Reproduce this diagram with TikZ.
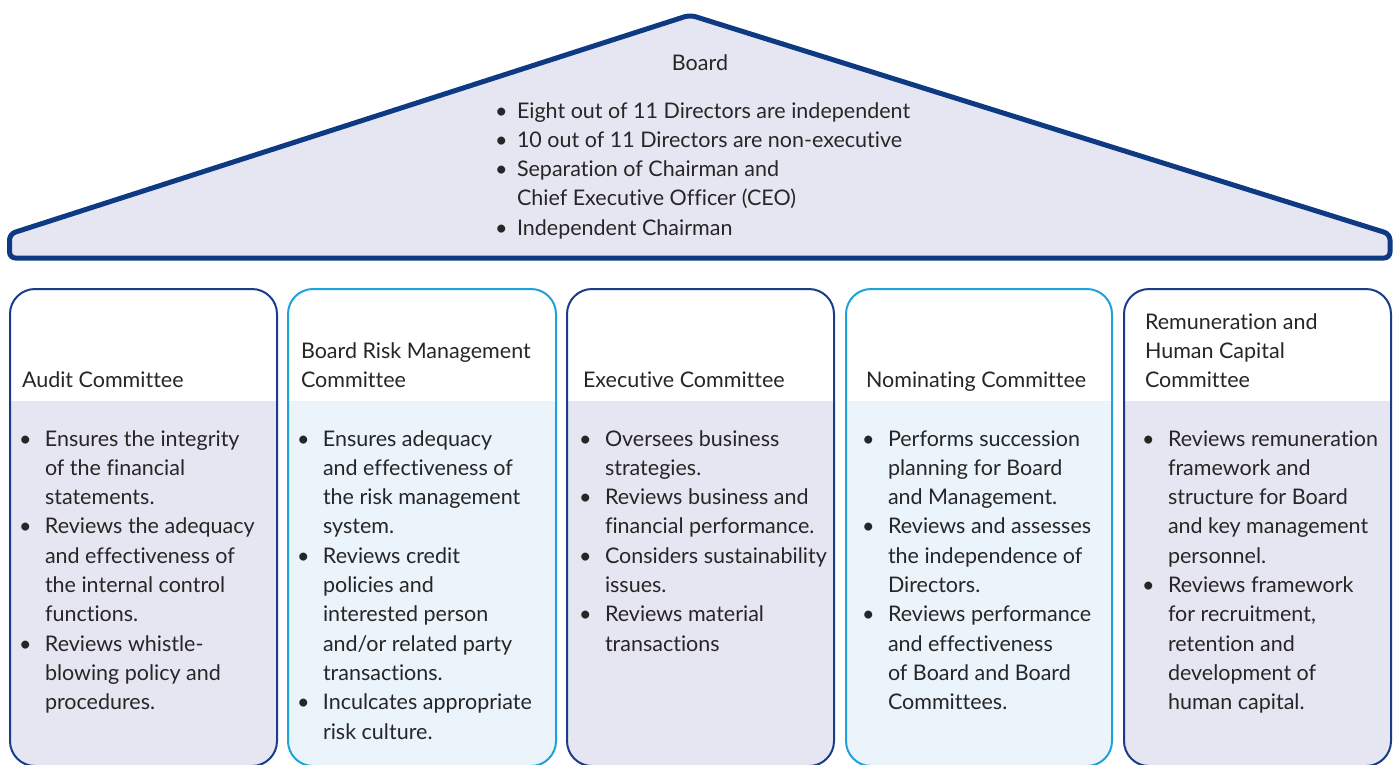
\documentclass[tikz,border=0pt]{standalone}
\usepackage{fontspec}
\setmainfont{Lato}[Ligatures=NoCommon]
\definecolor{navy}{HTML}{0E3A83}
\definecolor{boxnavy}{HTML}{1B3C87}
\definecolor{skyline}{HTML}{1EA2DC}
\definecolor{lavender}{HTML}{E6E6F2}
\definecolor{icefill}{HTML}{EBF3FB}
\definecolor{ink}{HTML}{262626}
\newcommand{\bl}{\textbullet}
\tikzset{
  txt/.style={inner sep=0pt, outer sep=0pt, text=ink, font=\fontsize{21.5}{29.3}\selectfont},
  heading/.style={txt, anchor=base west},
  listtxt/.style={txt, anchor=base west},
  roofline/.style={draw=navy, line width=5pt, fill=lavender, rounded corners=6pt, line join=round},
}
% one committee column: #1 left x, #2 right x, #3 border colour, #4 body fill
\newcommand{\committeebox}[4]{%
  \fill[white, rounded corners=25pt] (#1,289) -- (#1,790) -- (#2,790) -- (#2,289) -- cycle;
  \begin{scope}
    \clip[rounded corners=25pt] (#1,289) -- (#1,766) -- (#2,766) -- (#2,289) -- cycle;
    \fill[#4] (#1,401) rectangle (#2,800);
  \end{scope}
  \draw[#3, line width=2pt, rounded corners=25pt] (#1,289) -- (#1,766) -- (#2,766) -- (#2,289) -- cycle;
}
\begin{document}
\begin{tikzpicture}[x=1pt, y=-1pt]
\useasboundingbox (0,0) rectangle (1399,764);
\clip (0,0) rectangle (1399,764);

% roof
\draw[roofline] (9.5,258) -- (9.5,234) -- (690,15) -- (1390,234) -- (1390,258) -- cycle;
\node[txt, anchor=base] (board) at (700,70) {Board};
\node[listtxt] (boardlist) at (495,118) {\begin{tabular}[t]{@{}p{22pt}@{}l@{}}
\bl & Eight out of 11 Directors are independent\\
\bl & 10 out of 11 Directors are non-executive\\
\bl & Separation of Chairman and\\
    & Chief Executive Officer (CEO)\\
\bl & Independent Chairman
\end{tabular}};

% committee columns
\committeebox{10}{277}{boxnavy}{lavender}
\committeebox{288}{556}{skyline}{icefill}
\committeebox{567}{834}{boxnavy}{lavender}
\committeebox{846}{1112}{skyline}{icefill}
\committeebox{1124}{1391}{boxnavy}{lavender}

% headings
\node[heading] (audit) at (22,387) {Audit Committee};
\node[heading] (risk) at (301,358) {\begin{tabular}[t]{@{}l@{}}Board Risk Management\\ Committee\end{tabular}};
\node[heading] (exec) at (583,387) {Executive Committee};
\node[heading] (nom) at (866,387) {Nominating Committee};
\node[heading] (rem) at (1145,329) {\begin{tabular}[t]{@{}l@{}}Remuneration and\\ Human Capital\\ Committee\end{tabular}};

% duties
\node[listtxt] (auditlist) at (19,446) {\begin{tabular}[t]{@{}p{26pt}@{}l@{}}
\bl & Ensures the integrity\\
    & of the financial\\
    & statements.\\
\bl & Reviews the adequacy\\
    & and effectiveness of\\
    & the internal control\\
    & functions.\\
\bl & Reviews whistle-\\
    & blowing policy and\\
    & procedures.
\end{tabular}};

\node[listtxt] (risklist) at (297,446) {\begin{tabular}[t]{@{}p{26pt}@{}l@{}}
\bl & Ensures adequacy\\
    & and effectiveness of\\
    & the risk management\\
    & system.\\
\bl & Reviews credit\\
    & policies and\\
    & interested person\\
    & and/or related party\\
    & transactions.\\
\bl & Inculcates appropriate\\
    & risk culture.
\end{tabular}};

\node[listtxt] (execlist) at (579,446) {\begin{tabular}[t]{@{}p{26pt}@{}l@{}}
\bl & Oversees business\\
    & strategies.\\
\bl & Reviews business and\\
    & financial performance.\\
\bl & Considers sustainability\\
    & issues.\\
\bl & Reviews material\\
    & transactions
\end{tabular}};

\node[listtxt] (nomlist) at (862,446) {\begin{tabular}[t]{@{}p{26pt}@{}l@{}}
\bl & Performs succession\\
    & planning for Board\\
    & and Management.\\
\bl & Reviews and assesses\\
    & the independence of\\
    & Directors.\\
\bl & Reviews performance\\
    & and effectiveness\\
    & of Board and Board\\
    & Committees.
\end{tabular}};

\node[listtxt] (remlist) at (1142,446) {\begin{tabular}[t]{@{}p{26pt}@{}l@{}}
\bl & Reviews remuneration\\
    & framework and\\
    & structure for Board\\
    & and key management\\
    & personnel.\\
\bl & Reviews framework\\
    & for recruitment,\\
    & retention and\\
    & development of\\
    & human capital.
\end{tabular}};
\end{tikzpicture}
\end{document}
